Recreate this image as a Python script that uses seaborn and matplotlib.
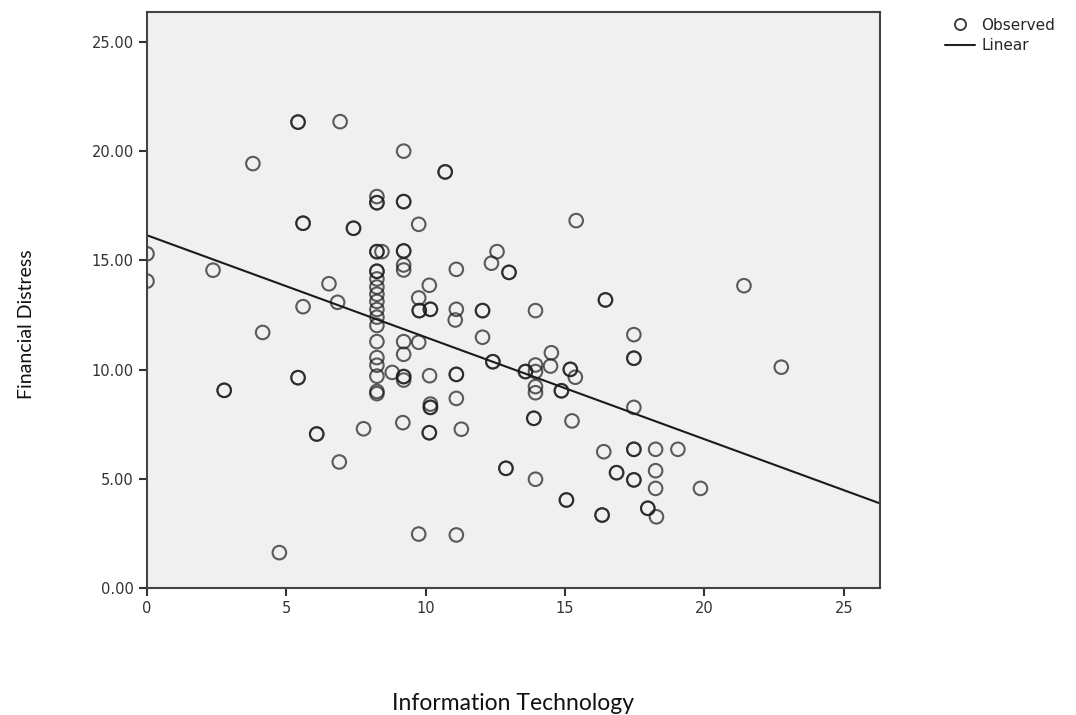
import numpy as np
import pandas as pd
import matplotlib
matplotlib.use("Agg")
import matplotlib.pyplot as plt
from matplotlib.lines import Line2D
import seaborn as sns

# Observed points (repeated pairs = overlapping circles)
info_tech = [
    0.00, 0.00, 2.37, 3.80, 5.42, 5.42, 6.93,
    8.25, 8.25, 8.25, 8.25, 8.25, 8.25, 8.25, 8.25, 8.25, 8.25,
    8.25, 8.25, 8.25, 8.25, 8.25, 8.25, 8.25, 8.25, 8.25, 8.25,
    5.60, 5.60, 7.41, 7.41, 8.43, 6.53, 6.84, 5.60, 4.15, 8.80,
    5.42, 5.42, 2.77, 2.77, 6.09, 6.09, 7.77, 6.90, 4.75,
    9.21, 10.70, 10.70, 9.21, 9.21, 9.75, 15.40, 9.21, 9.21, 9.21, 9.21,
    12.56, 12.36, 12.99, 12.99, 11.10, 10.13, 9.75, 9.77, 9.77, 10.17, 10.17,
    11.10, 11.06, 12.04, 12.04, 12.04, 13.94, 16.45, 16.45, 17.47,
    9.21, 9.75, 14.51, 9.21, 9.21, 9.21, 9.21, 10.14, 11.10, 11.10,
    10.17, 10.17, 10.17, 11.10, 9.18, 10.13, 10.13, 11.28,
    12.41, 12.41, 13.58, 13.58, 13.94, 13.94, 13.94, 13.94, 14.48,
    15.19, 15.19, 15.37, 14.87, 14.87, 13.88, 13.88, 15.25,
    17.47, 17.47, 17.47, 16.39, 17.47, 17.47, 18.25, 19.05,
    16.85, 16.85, 17.47, 17.47, 18.25, 18.25, 19.86,
    16.33, 16.33, 17.97, 17.97, 18.28, 12.88, 12.88, 13.94, 15.05, 15.05,
    9.75, 11.10, 21.42, 22.76,
]
fin_distress = [
    15.30, 14.05, 14.55, 19.43, 21.33, 21.33, 21.35,
    17.92, 17.64, 17.64, 15.40, 15.40, 14.50, 14.50, 14.15, 13.78, 13.45,
    13.12, 12.75, 12.40, 12.02, 11.28, 10.55, 10.20, 9.70, 9.00, 8.90,
    16.70, 16.70, 16.47, 16.47, 15.40, 13.93, 13.08, 12.88, 11.70, 9.87,
    9.63, 9.63, 9.05, 9.05, 7.05, 7.05, 7.29, 5.77, 1.62,
    20.00, 19.05, 19.05, 17.69, 17.69, 16.65, 16.82, 15.43, 15.43, 14.79, 14.56,
    15.40, 14.87, 14.45, 14.45, 14.59, 13.86, 13.28, 12.70, 12.70, 12.76, 12.76,
    12.76, 12.27, 12.70, 12.70, 11.48, 12.70, 13.19, 13.19, 11.60,
    11.28, 11.25, 10.77, 10.70, 9.68, 9.68, 9.52, 9.72, 9.78, 9.78,
    8.42, 8.27, 8.27, 8.68, 7.57, 7.11, 7.11, 7.27,
    10.36, 10.36, 9.91, 9.91, 10.21, 9.91, 9.22, 8.94, 10.16,
    10.01, 10.01, 9.65, 9.03, 9.03, 7.77, 7.77, 7.65,
    10.52, 10.52, 8.27, 6.24, 6.35, 6.35, 6.35, 6.35,
    5.28, 5.28, 4.95, 4.95, 5.37, 4.56, 4.56,
    3.34, 3.34, 3.65, 3.65, 3.26, 5.48, 5.48, 4.98, 4.03, 4.03,
    2.47, 2.43, 13.84, 10.11,
]

x_ticks = [0, 5, 10, 15, 20, 25]
y_ticks = [0, 5, 10, 15, 20, 25]

df = pd.DataFrame({"Information Technology": info_tech,
                   "Financial Distress": fin_distress})

sns.set_style("ticks")
plt.rcParams["font.family"] = ["DejaVu Sans"]

fig = plt.figure(figsize=(10.76, 7.15), dpi=100)
ax = fig.add_axes([0.1366, 0.1776, 0.6812, 0.8056])
ax.set_facecolor("#f0f0f0")
ax.set_xlim(0, 26.3)
ax.set_ylim(0, 26.37)

sns.scatterplot(data=df, x="Information Technology", y="Financial Distress",
                ax=ax, marker="o", s=95, facecolors="none",
                edgecolor="#1a1a1a", linewidth=1.5, alpha=0.7)
sns.regplot(data=df, x="Information Technology", y="Financial Distress",
            ax=ax, scatter=False, ci=None, truncate=False,
            line_kws=dict(color="#1a1a1a", lw=1.5))
ax.set_xlim(0, 26.3)
ax.set_ylim(0, 26.37)

ax.set_xticks(x_ticks)
ax.set_xticklabels([str(t) for t in x_ticks])
ax.set_yticks(y_ticks)
ax.set_yticklabels([f"{t:.2f}" for t in y_ticks])
ax.tick_params(axis="both", direction="out", length=6, width=1.5,
               color="#333333", labelsize=10.5, labelcolor="#333333")
for sp in ax.spines.values():
    sp.set_color("#444444")
    sp.set_linewidth(1.5)

ax.set_xlabel("Information Technology", fontsize=16.5, family="Lato",
              color="#111111")
ax.set_ylabel("Financial Distress", fontsize=14, family="Lato",
              color="#111111")
ax.xaxis.set_label_coords(0.5, -0.183)
ax.yaxis.set_label_coords(-0.153, 0.458)

handles = [
    Line2D([], [], marker="o", ls="none", mfc="none", mec="#333333",
           mew=1.3, ms=8, label="Observed"),
    Line2D([], [], color="#222222", lw=1.5, label="Linear"),
]
fig.legend(handles=handles, loc="upper left", bbox_to_anchor=(0.868, 0.99),
           frameon=False, fontsize=11, handlelength=2.0, handletextpad=0.4,
           labelspacing=0.35, borderaxespad=0.3)

fig.savefig("out.png", dpi=100)
